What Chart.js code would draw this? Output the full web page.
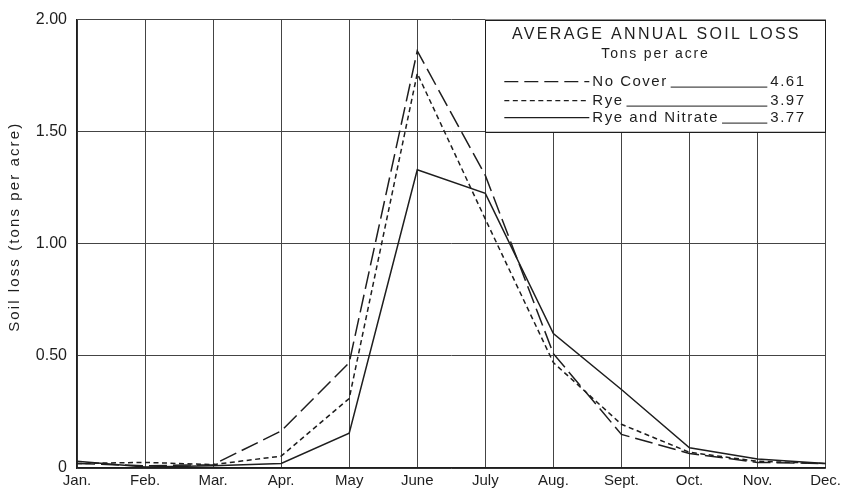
<!DOCTYPE html>
<html>
<head>
<meta charset="utf-8">
<script src="https://cdn.jsdelivr.net/npm/chart.js@4/dist/chart.umd.min.js"></script>
<style>
  html, body { margin: 0; padding: 0; background: #fff; }
  #wrap { width: 845px; height: 492px; }
</style>
</head>
<body>
<div id="wrap"><canvas id="c" width="845" height="492"></canvas></div>
<script>
// Monthly soil loss, tons per acre
const months = ['Jan.', 'Feb.', 'Mar.', 'Apr.', 'May', 'June', 'July', 'Aug.', 'Sept.', 'Oct.', 'Nov.', 'Dec.'];
const noCover       = [0.02, 0.01, 0.015, 0.165, 0.47, 1.86, 1.305, 0.51, 0.15, 0.065, 0.025, 0.02];
const rye           = [0.02, 0.025, 0.015, 0.053, 0.31, 1.76, 1.11, 0.47, 0.195, 0.07, 0.03, 0.02];
const ryeAndNitrate = [0.03, 0.005, 0.01, 0.02, 0.155, 1.33, 1.225, 0.60, 0.35, 0.09, 0.04, 0.02];

// Annual totals shown in the key
const seriesNames  = ['No Cover', 'Rye', 'Rye and Nitrate'];
const annualTotals = ['4.61', '3.97', '3.77'];
const yTicks = [0, 0.5, 1.0, 1.5, 2.0];
const yTitle = 'Soil loss (tons per acre)';

const INK = '#1e1e1e';
const FONT = '"Liberation Sans", Arial, sans-serif';

// Letter-spaced vertical axis title
const axisTitle = {
  id: 'axisTitle',
  afterDraw(chart) {
    const { ctx, chartArea } = chart;
    ctx.save();
    ctx.fillStyle = INK;
    ctx.font = '15px ' + FONT;
    ctx.letterSpacing = '2.1px';
    ctx.textAlign = 'center';
    ctx.textBaseline = 'middle';
    ctx.translate(15, (chartArea.top + chartArea.bottom) / 2 - 17);
    ctx.rotate(-Math.PI / 2);
    ctx.fillText(yTitle, 0, 0);
    ctx.restore();
  }
};

// Boxed key in the upper-right panel of the grid
const keyBox = {
  id: 'keyBox',
  afterDatasetsDraw(chart) {
    const { ctx, scales } = chart;
    const x0 = scales.x.getPixelForValue(6);
    const x1 = scales.x.getPixelForValue(11);
    const y0 = scales.y.getPixelForValue(2.0);
    const y1 = scales.y.getPixelForValue(1.5);
    ctx.save();
    ctx.fillStyle = '#fff';
    ctx.fillRect(x0, y0, x1 - x0, y1 - y0);
    ctx.strokeStyle = INK;
    ctx.lineWidth = 1;
    ctx.strokeRect(Math.round(x0) + 0.5, Math.round(y0) + 0.5, Math.round(x1 - x0), Math.round(y1 - y0));

    ctx.fillStyle = INK;
    ctx.textBaseline = 'middle';
    ctx.textAlign = 'center';
    const cx = (x0 + x1) / 2;
    ctx.letterSpacing = '2.3px';
    ctx.font = '16px ' + FONT;
    ctx.fillText('AVERAGE ANNUAL SOIL LOSS', cx + 1, y0 + 15);
    ctx.letterSpacing = '1.8px';
    ctx.font = '14px ' + FONT;
    ctx.fillText('Tons per acre', cx, y0 + 35);

    const dashes = [[14, 6], [5, 3.5], []];
    const rowY = [y0 + 62, y0 + 81, y0 + 98];
    const sx0 = x0 + 19, sx1 = x0 + 104;
    const txt = x0 + 107;
    const valX = x0 + 285;
    ctx.textAlign = 'left';
    ctx.font = '15px ' + FONT;
    ctx.letterSpacing = '1.5px';
    for (let i = 0; i < seriesNames.length; i++) {
      const y = rowY[i];
      ctx.setLineDash(dashes[i]);
      ctx.lineWidth = 1.4;
      ctx.beginPath();
      ctx.moveTo(sx0, y);
      ctx.lineTo(sx1, y);
      ctx.stroke();
      ctx.setLineDash([]);
      ctx.fillText(seriesNames[i], txt, y);
      const w = ctx.measureText(seriesNames[i]).width;
      ctx.lineWidth = 1;
      ctx.beginPath();
      ctx.moveTo(txt + w + 3, y + 5.5);
      ctx.lineTo(valX - 3, y + 5.5);
      ctx.stroke();
      ctx.fillText(annualTotals[i], valX, y);
    }
    ctx.restore();
  }
};

const lineSet = (label, data, dash) => ({
  label, data,
  borderColor: INK,
  borderWidth: 1.5,
  borderDash: dash,
  pointRadius: 0,
  tension: 0,
  fill: false
});

new Chart(document.getElementById('c'), {
  type: 'line',
  data: {
    labels: months,
    datasets: [
      lineSet(seriesNames[0], noCover, [18, 6]),
      lineSet(seriesNames[1], rye, [5, 3.5]),
      lineSet(seriesNames[2], ryeAndNitrate, [])
    ]
  },
  options: {
    responsive: false,
    animation: false,
    devicePixelRatio: 1,
    layout: { padding: { left: 0, right: 16, top: 15, bottom: 0 } },
    plugins: { legend: { display: false }, tooltip: { enabled: false } },
    scales: {
      x: {
        type: 'category',
        offset: false,
        grid: { color: '#444', lineWidth: 1, drawTicks: false },
        border: { color: INK, width: 1.5 },
        ticks: { color: INK, font: { family: FONT, size: 15 }, padding: 4, maxRotation: 0, autoSkip: false },
        afterFit(s) { s.height = 24; }
      },
      y: {
        min: 0, max: 2,
        afterBuildTicks(s) { s.ticks = yTicks.map(v => ({ value: v })); },
        grid: { color: '#444', lineWidth: 1, drawTicks: false },
        border: { color: INK, width: 1.5 },
        ticks: {
          color: INK, font: { family: FONT, size: 16 }, padding: 10,
          callback: v => v === 0 ? '0' : v.toFixed(2)
        },
        title: { display: false },
        afterFit(s) { s.width = 77; }
      }
    }
  },
  plugins: [keyBox, axisTitle]
});
</script>
</body>
</html>
